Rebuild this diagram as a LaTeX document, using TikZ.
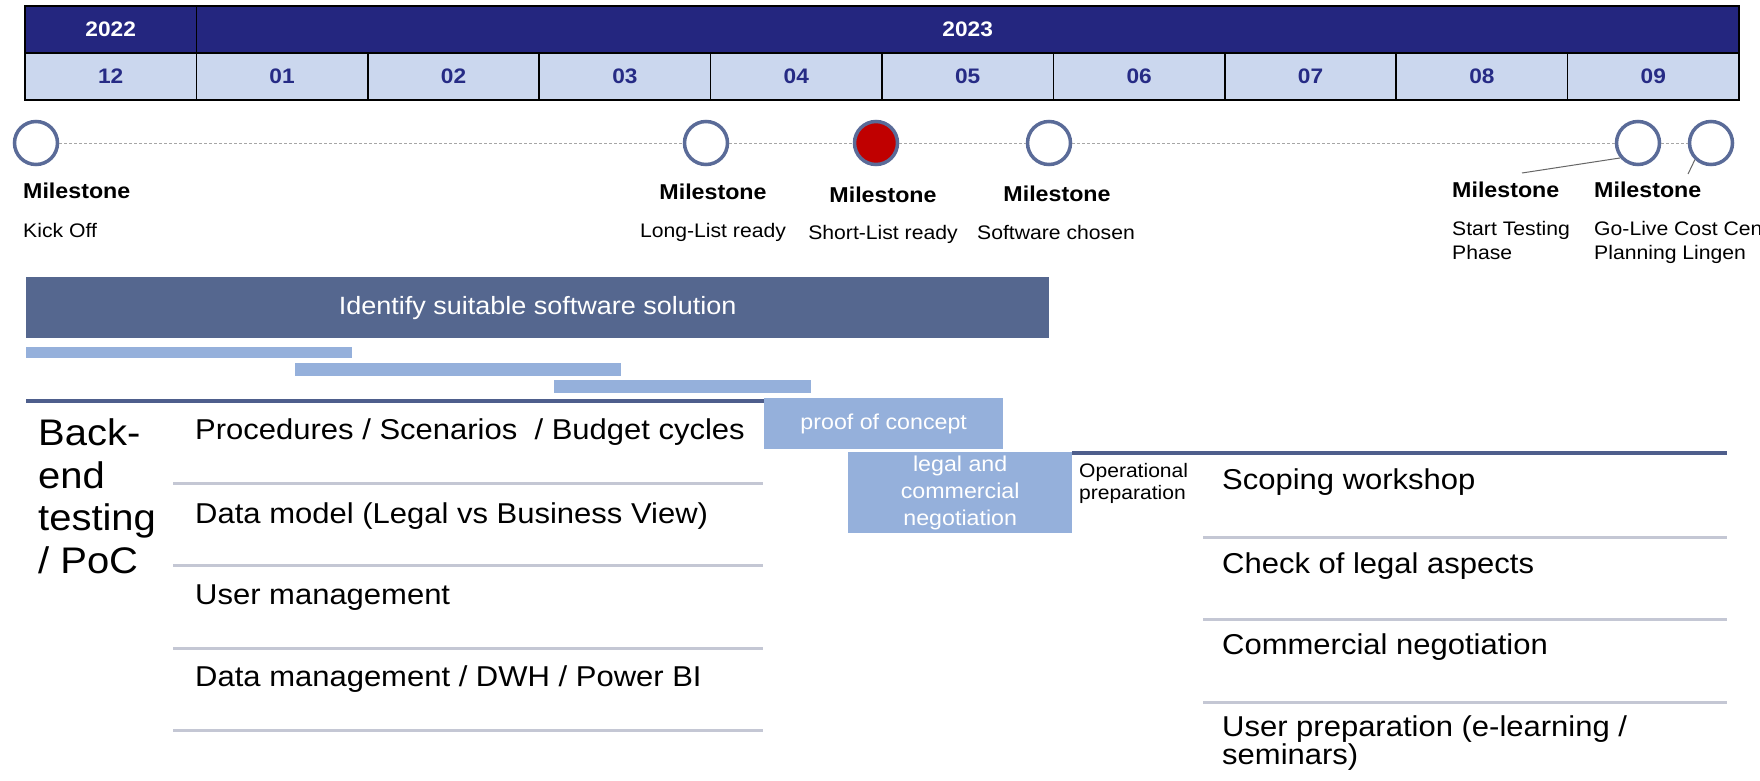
\documentclass[tikz,border=0pt]{standalone}
\usepackage{fontspec}
\setmainfont{Liberation Sans}[FakeStretch=1.08]

\definecolor{yearblue}{HTML}{24267F}
\definecolor{monthblue}{HTML}{CBD7EE}
\definecolor{monthtext}{HTML}{262B85}
\definecolor{msline}{HTML}{5A6B98}
\definecolor{msred}{HTML}{C00000}
\definecolor{slateblue}{HTML}{55678F}
\definecolor{taskblue}{HTML}{95B0DB}
\definecolor{ruleblue}{HTML}{4E5E8C}
\definecolor{sepgrey}{HTML}{C4C7D4}

\begin{document}
\begin{tikzpicture}[x=1pt, y=-1pt,
		hdrcell/.style={draw=black, line width=1.6, minimum height=47, inner sep=0, outer sep=0, anchor=north west, font=\fontsize{21}{25}\selectfont\bfseries},
		yearcell/.style={hdrcell, fill=yearblue, text=white},
		monthcell/.style={hdrcell, fill=monthblue, text=monthtext, minimum width=171.4},
		milestone/.style={circle, draw=msline, line width=3.5, fill=white, minimum size=43, inner sep=0},
		msname/.style={font=\fontsize{21.5}{25}\selectfont\bfseries, inner sep=0},
		msnote/.style={font=\fontsize{19.6}{24}\selectfont, inner sep=0, align=left},
		taskbox/.style={fill=taskblue, text=white, inner sep=0, anchor=north west, align=center, font=\fontsize{21.5}{27}\selectfont},
		rowtext/.style={font=\fontsize{28.7}{28}\selectfont, inner sep=0, anchor=base west, align=left},
		rowline/.style={draw=sepgrey, line width=3},
		headline/.style={draw=ruleblue, line width=3.5},
		timeline/.style={draw=gray!70, line width=1, dash pattern=on 3 off 2},
		leader/.style={draw=gray!80!black, line width=1}
	]
	\clip (0,0) rectangle (1760,781);
	\fill[white] (0,0) rectangle (1760,781);
	
	% Year row
	\node[yearcell, minimum width=171.4] (y22) at (25,6) {2022};
	\node[yearcell, minimum width=1542.6] (y23) at (196.4,6) {2023};
	
	% Month row
	\foreach \mth [count=\i from 0] in {12,01,02,03,04,05,06,07,08,09}
		\node[monthcell] (mon\i) at (25+171.4*\i,53) {\mth};
	
	% Milestones
	\node[milestone] (m1) at (36,143) {};
	\node[milestone] (m2) at (706,143) {};
	\node[milestone, fill=msred] (m3) at (876,143) {};
	\node[milestone] (m4) at (1049,143) {};
	\node[milestone] (m5) at (1638,143) {};
	\node[milestone] (m6) at (1711,143) {};
	\draw[timeline] (m1) -- (m2) -- (m3) -- (m4) -- (m5) -- (m6);
	
	% base of a multi-line text is its last line
	\node[msname, anchor=base west] (n1) at (23,198) {Milestone};
	\node[msnote, anchor=base west] (k1) at (23,237) {Kick Off};
	\node[msname, anchor=base] (n2) at (713,199) {Milestone};
	\node[msnote, anchor=base] (k2) at (713,237) {Long-List ready};
	\node[msname, anchor=base] (n3) at (883,202) {Milestone};
	\node[msnote, anchor=base] (k3) at (883,239) {Short-List ready};
	\node[msname, anchor=base] (n4) at (1057,201) {Milestone};
	\node[msnote, anchor=base] (k4) at (1056,239) {Software chosen};
	\node[msname, anchor=base west] (n5) at (1452,197) {Milestone};
	\node[msnote, anchor=base west] (k5) at (1452,259) {Start Testing\\Phase};
	\node[msname, anchor=base west] (n6) at (1594,197) {Milestone};
	\node[msnote, anchor=base west] (k6) at (1594,259) {Go-Live Cost Center\\Planning Lingen};
	
	\coordinate (c5) at (1522,173);
	\coordinate (c6) at (1688,174);
	\draw[leader] (m5.220) -- (c5);
	\draw[leader] (m6.226) -- (c6);
	
	% Software selection
	\node[fill=slateblue, text=white, minimum width=1023, minimum height=61, inner sep=0, anchor=north west, font=\fontsize{25}{30}\selectfont] (ident) at (26,277) {Identify suitable software solution};
	\fill[taskblue] (26,347) rectangle (352,358);
	\fill[taskblue] (295,363) rectangle (621,376);
	\fill[taskblue] (554,380) rectangle (811,393);
	
	% Back-end testing
	\draw[headline] (26,401) -- (764,401);
	\node[anchor=base west, align=left, inner sep=0, font=\fontsize{37}{42.5}\selectfont] (backend) at (38,573) {Back-\\end\\testing\\/ PoC};
	\node[rowtext] (p1) at (195,439) {Procedures / Scenarios \ / Budget cycles};
	\node[rowtext] (p2) at (195,523) {Data model (Legal vs Business View)};
	\node[rowtext] (p3) at (195,604) {User management};
	\node[rowtext] (p4) at (195,686) {Data management / DWH / Power BI};
	\foreach \y in {483,565,648,730}
		\draw[rowline] (173,\y) -- (763,\y);
	
	% Proof of concept and negotiation
	\node[taskbox, minimum width=239, minimum height=51] (poc) at (764,398) {proof of concept};
	\node[taskbox, minimum width=224, minimum height=81] (legal) at (848,452) {legal and\\commercial\\negotiation};
	
	% Operational preparation
	\draw[headline] (1072,453) -- (1727,453);
	\node[anchor=base west, align=left, inner sep=0, font=\fontsize{19.5}{21.5}\selectfont] (oper) at (1079,499) {Operational\\preparation};
	\node[rowtext] (q1) at (1222,489) {Scoping workshop};
	\node[rowtext] (q2) at (1222,573) {Check of legal aspects};
	\node[rowtext] (q3) at (1222,654) {Commercial negotiation};
	\node[rowtext] (q4) at (1222,764) {User preparation (e-learning /\\seminars)};
	\foreach \y in {537,619,702}
		\draw[rowline] (1203,\y) -- (1727,\y);
\end{tikzpicture}
\end{document}
